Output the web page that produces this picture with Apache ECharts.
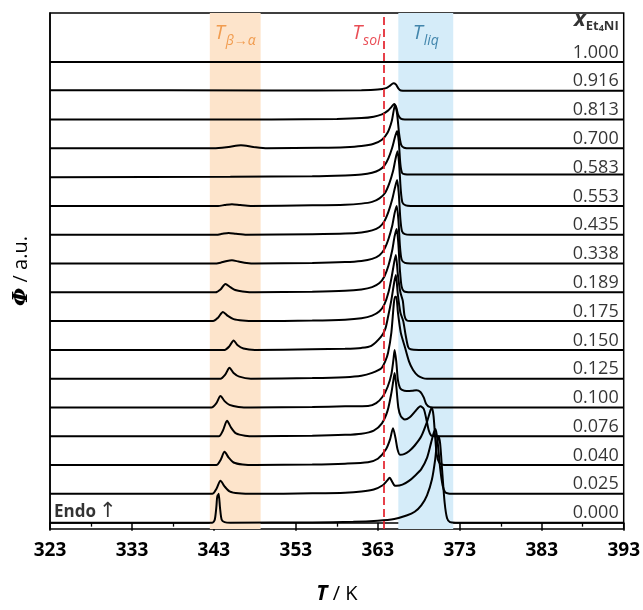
<!DOCTYPE html>
<html><head><meta charset="utf-8">
<script src="https://cdn.jsdelivr.net/npm/echarts@6/dist/echarts.min.js"></script>
<style>html,body{margin:0;padding:0;background:#fff}#c{width:643px;height:610px}</style>
</head><body><div id="c"></div>
<script>
// ---------- data (temperature in K, signal in row units above each baseline) ----------
const T0 = 323;                       // axis start
const T1 = 393;                       // axis end
const tickStep = 10;
const compositions = ['1.000','0.916','0.813','0.700','0.583','0.553','0.435','0.338','0.189','0.175','0.150','0.125','0.100','0.076','0.040','0.025','0.000'];

const tr_1000 = [[323,0],[393,0]];
const tr_0916 = [[323,0.02],[350,0.01],[361,0.02],[363,0.04],[364,0.09],[364.5,0.18],[364.9,0.26],[365.2,0.22],[365.5,0.08],[365.8,0.01],[366.5,0],[393,0]];
const tr_0813 = [[323,0],[350,0],[358,0.02],[361,0.05],[362.5,0.1],[363.5,0.18],[364.2,0.3],[364.7,0.45],[365.0,0.54],[365.25,0.42],[365.5,0.15],[365.8,0.03],[366.3,0],[393,0]];
const tr_0700 = [[323,0],[343,0],[344.8,0.05],[346.3,0.11],[347.8,0.05],[349.5,0],[356,0.02],[359,0.04],[361,0.08],[362.5,0.16],[363.5,0.3],[364.2,0.55],[364.7,0.95],[365.1,1.5],[365.35,1.2],[365.6,0.5],[365.85,0.12],[366.2,0.02],[367,0],[393,0]];
const tr_0583 = [[323,0],[345,0.01],[355,0.03],[359,0.06],[361,0.09],[362.3,0.15],[363.2,0.25],[363.8,0.4],[364.3,0.66],[364.75,1.02],[365.1,1.4],[365.35,1.6],[365.55,1.25],[365.75,0.45],[365.95,0.15],[366.3,0.1],[367,0.09],[393,0.09]];
const tr_0553 = [[323,0],[343.5,0],[344.3,0.03],[345.2,0.06],[346.2,0.03],[347.5,0],[355,0.02],[359,0.04],[361,0.08],[362.3,0.14],[363.2,0.26],[363.9,0.46],[364.4,0.78],[364.85,1.2],[365.15,1.62],[365.4,1.9],[365.6,1.45],[365.8,0.55],[366.0,0.12],[366.4,0.02],[367,0],[393,0]];
const tr_0435 = [[323,0],[343.3,0],[344.0,0.03],[344.8,0.06],[345.7,0.03],[347,0],[355,0.02],[359,0.04],[361,0.08],[362.3,0.15],[363.2,0.27],[363.8,0.47],[364.3,0.8],[364.75,1.22],[365.1,1.65],[365.35,1.9],[365.55,1.45],[365.75,0.55],[365.95,0.12],[366.3,0.02],[367,0],[393,0]];
const tr_0338 = [[323,0],[343,0],[343.8,0.03],[344.6,0.09],[345.2,0.11],[346,0.07],[347,0.02],[348,0],[355,0.02],[359,0.05],[361,0.09],[362.3,0.16],[363.2,0.29],[363.8,0.5],[364.3,0.85],[364.75,1.3],[365.05,1.75],[365.3,2.0],[365.5,1.55],[365.7,0.6],[365.9,0.14],[366.3,0.02],[367,0],[393,0]];
const tr_0189 = [[323,0],[343.2,0],[343.8,0.1],[344.4,0.29],[345,0.18],[345.6,0.08],[346.5,0.03],[348,0],[355,0.02],[359,0.05],[361,0.1],[362.3,0.18],[363.2,0.32],[363.8,0.55],[364.3,0.93],[364.75,1.45],[365.05,1.95],[365.3,2.2],[365.5,1.7],[365.7,0.75],[365.9,0.2],[366.2,0.03],[367,0],[393,0]];
const tr_0175 = [[323,0],[342.9,0],[343.5,0.12],[344.1,0.32],[344.7,0.18],[345.4,0.07],[346.5,0.02],[348,0],[355,0.02],[359,0.05],[361,0.1],[362.3,0.19],[363.2,0.34],[363.8,0.58],[364.3,1.0],[364.7,1.55],[365.0,2.05],[365.2,2.3],[365.45,1.6],[365.75,1.0],[366.05,0.7],[366.25,0.2],[366.5,0.03],[367,0],[393,0]];
const tr_0150 = [[323,0],[344.3,0],[344.9,0.13],[345.4,0.33],[345.9,0.16],[346.6,0.05],[348,0],[355,0.02],[359,0.04],[361,0.07],[362.2,0.14],[363.4,0.46],[363.9,0.72],[364.25,1.15],[364.65,1.73],[365.0,2.35],[365.2,2.6],[365.45,1.9],[365.75,1.3],[366.1,1.0],[366.4,0.5],[366.7,0.1],[367.0,0.02],[368,0],[393,0]];
const tr_0125 = [[323,0],[343.8,0],[344.4,0.15],[344.9,0.38],[345.4,0.2],[346.1,0.07],[347.5,0],[355,0.02],[359,0.05],[361,0.1],[362.3,0.2],[363.4,0.35],[363.9,0.6],[364.25,0.9],[364.65,1.6],[364.95,2.6],[365.1,2.85],[365.25,2.85],[365.45,2.3],[365.8,1.6],[366.3,1.1],[366.8,0.6],[367.3,0.3],[367.9,0.1],[368.5,0.02],[369,0],[393,0]];
const tr_0100 = [[323,0],[342.7,0],[343.3,0.15],[343.8,0.4],[344.3,0.22],[344.9,0.09],[346,0.02],[347.5,0],[355,0.02],[359,0.04],[361.8,0.05],[362.8,0.15],[363.6,0.38],[364.2,0.72],[364.65,1.15],[364.9,1.65],[365.05,2.0],[365.25,1.6],[365.45,0.95],[365.7,0.68],[365.95,0.61],[366.5,0.57],[367.2,0.58],[367.7,0.6],[368.2,0.54],[368.6,0.35],[368.9,0.12],[369.3,0.02],[370,0],[393,0]];
const tr_0076 = [[323,0],[343.6,0],[344.1,0.2],[344.6,0.54],[345.1,0.3],[345.7,0.1],[346.8,0.02],[348,0],[355,0.02],[359,0.05],[361,0.09],[362.5,0.2],[363.5,0.45],[364.2,0.9],[364.65,1.5],[364.9,1.95],[365.05,2.2],[365.25,1.75],[365.5,1.0],[365.8,0.7],[366.3,0.58],[366.9,0.66],[367.6,0.88],[368.2,1.04],[368.6,0.95],[368.9,0.62],[369.2,0.22],[369.5,0.03],[370,0],[393,0]];
const tr_0040 = [[323,0],[343.3,0],[343.8,0.17],[344.3,0.46],[344.8,0.26],[345.4,0.09],[346.5,0.02],[348,0],[355,0.02],[359,0.05],[361.8,0.1],[363,0.22],[364,0.55],[364.5,0.9],[364.85,1.28],[365.15,0.95],[365.4,0.55],[365.7,0.36],[366.2,0.38],[366.8,0.48],[367.5,0.68],[368.3,1.0],[369.0,1.5],[369.4,1.88],[369.6,2.0],[369.8,1.7],[370.0,0.95],[370.2,0.35],[370.5,0.08],[370.9,0.01],[371.5,0],[393,0]];
const tr_0025 = [[323,0],[342.8,0],[343.3,0.17],[343.8,0.46],[344.3,0.26],[344.9,0.09],[346,0.02],[348,0],[355,0.02],[359,0.04],[361,0.08],[362.5,0.15],[363.6,0.3],[364.1,0.45],[364.45,0.56],[364.75,0.42],[365.0,0.3],[365.25,0.28],[366,0.32],[366.8,0.45],[367.6,0.65],[368.3,0.86],[369.0,1.25],[369.5,1.78],[369.85,2.15],[370.05,2.25],[370.3,1.8],[370.6,0.9],[370.9,0.3],[371.2,0.06],[371.6,0.01],[372,0],[393,0]];
const tr_0000 = [[323,0],[342.8,0],[343.1,0.1],[343.3,0.55],[343.42,0.95],[343.5,0.88],[343.58,1.0],[343.75,0.5],[343.95,0.1],[344.3,0.02],[345,0],[355,0.01],[360,0.03],[363,0.07],[365,0.13],[366.5,0.25],[367.5,0.38],[368.3,0.6],[369.0,0.95],[369.6,1.5],[370.0,2.2],[370.2,2.75],[370.4,3.0],[370.6,2.75],[370.85,1.8],[371.15,0.7],[371.45,0.15],[371.8,0.02],[372.5,0],[393,0]];

const traces = [tr_1000,tr_0916,tr_0813,tr_0700,tr_0583,tr_0553,tr_0435,tr_0338,tr_0189,tr_0175,tr_0150,tr_0125,tr_0100,tr_0076,tr_0040,tr_0025,tr_0000];

const bandBeta = [342.5, 348.7];
const bandLiq = [365.5, 372.2];
const tSol = 363.7;

// ---------- chart ----------
const chart = echarts.init(document.getElementById('c'), null, {renderer:'canvas'});
const FONT = '"Open Sans", "Noto Sans", sans-serif';
const n = traces.length;
const yTopLabel = 16.92;

const traceSeries = traces.map((tr, i) => {
  const k = n - 1 - i;
  return {
    type: 'line', name: compositions[i], z: 3,
    showSymbol: false, symbol: 'none', smooth: 0.25, silent: true,
    lineStyle: {color: '#000', width: 2},
    data: tr.map(p => [p[0] - T0, p[1] + k])
  };
});

const bandSeries = {
  type: 'line', data: [], z: 1, silent: true,
  markArea: {
    silent: true,
    data: [
      [{xAxis: bandBeta[0] - T0, itemStyle: {color: '#fde4cb'}}, {xAxis: bandBeta[1] - T0}],
      [{xAxis: bandLiq[0] - T0, itemStyle: {color: '#d5ecf9'}}, {xAxis: bandLiq[1] - T0}]
    ]
  },
  markLine: {
    silent: true, symbol: 'none', label: {show: false},
    lineStyle: {color: '#e3202b', type: [8, 4], width: 1.7},
    data: [{xAxis: tSol - T0}]
  }
};

const labelData = compositions.map((c, i) => ({
  value: [T1 - T0, (n - 1 - i) + 0.33],
  label: {show: true, position: 'left', distance: 5, formatter: c, fontSize: 18, color: '#000', fontFamily: FONT}
}));

const annot = [
  {value: [T1 - T0, 17.42], label: {show: true, position: 'left', distance: 5,
    formatter: '{x|x}{s|Et}{ss|4}{s|NI}',
    rich: {
      x: {fontSize: 22, fontWeight: 'bold', fontStyle: 'italic', fontFamily: FONT, color: '#000', verticalAlign: 'top'},
      s: {fontSize: 13, fontWeight: 'bold', fontFamily: FONT, color: '#000', verticalAlign: 'bottom', padding: [10,0,0,0]},
      ss: {fontSize: 9, fontWeight: 'bold', fontFamily: FONT, color: '#000', verticalAlign: 'bottom', padding: [15,0,0,0]}
    }}},
  {value: [(bandBeta[0] + bandBeta[1]) / 2 - T0, yTopLabel], label: {show: true, position: 'inside',
    formatter: '{t|T}{s|β→α}',
    rich: {
      t: {fontSize: 20, fontStyle: 'italic', fontFamily: FONT, color: '#ee8a30', verticalAlign: 'top'},
      s: {fontSize: 14, fontStyle: 'italic', fontFamily: FONT, color: '#ee8a30', verticalAlign: 'bottom', padding: [11,0,0,1]}
    }}},
  {value: [tSol - T0, yTopLabel], label: {show: true, position: 'left', distance: 3,
    formatter: '{t|T}{s|sol}',
    rich: {
      t: {fontSize: 20, fontStyle: 'italic', fontFamily: FONT, color: '#e3202b', verticalAlign: 'top'},
      s: {fontSize: 14, fontStyle: 'italic', fontFamily: FONT, color: '#e3202b', verticalAlign: 'bottom', padding: [11,0,0,1]}
    }}},
  {value: [(bandLiq[0] + bandLiq[1]) / 2 - T0, yTopLabel], label: {show: true, position: 'inside',
    formatter: '{t|T}{s|liq}',
    rich: {
      t: {fontSize: 20, fontStyle: 'italic', fontFamily: FONT, color: '#1d6b99', verticalAlign: 'top'},
      s: {fontSize: 14, fontStyle: 'italic', fontFamily: FONT, color: '#1d6b99', verticalAlign: 'bottom', padding: [11,0,0,1]}
    }}},
  {value: [0, 0.36], label: {show: true, position: 'right', distance: 4,
    formatter: '{b|Endo}{a|↑}',
    rich: {
      b: {fontSize: 17, fontWeight: 'bold', fontFamily: FONT, color: '#000'},
      a: {fontSize: 21, fontFamily: '"DejaVu Sans", sans-serif', color: '#000', padding: [0,0,2,3]}
    }}}
];

const labelSeries = {
  type: 'scatter', symbolSize: 0, z: 5, silent: true,
  data: labelData.concat(annot)
};

chart.setOption({
  animation: false,
  grid: {left: 50, right: 16, top: 13, bottom: 73, show: true, borderColor: '#000', borderWidth: 1.5, backgroundColor: 'transparent'},
  xAxis: {
    type: 'value', min: 0, max: T1 - T0, interval: tickStep,
    axisLine: {show: true, lineStyle: {color: '#000', width: 1.5}},
    axisTick: {show: true, length: 8, lineStyle: {color: '#000', width: 1.5}},
    minorTick: {show: true, splitNumber: 2, length: 4, lineStyle: {color: '#000', width: 1.3}},
    splitLine: {show: false}, minorSplitLine: {show: false},
    axisLabel: {formatter: v => String(v + T0), fontSize: 19, fontWeight: 'bold', color: '#000', fontFamily: FONT, margin: 12},
    name: '{b|T} / K', nameLocation: 'middle', nameGap: 55,
    nameTextStyle: {fontSize: 20, color: '#000', fontFamily: FONT,
      rich: {b: {fontSize: 21, fontWeight: 'bold', fontStyle: 'italic', fontFamily: FONT, color: '#000'}}}
  },
  yAxis: {
    type: 'value', min: -0.22, max: 17.7,
    axisLine: {show: true, lineStyle: {color: '#000', width: 1.5}},
    axisTick: {show: false}, axisLabel: {show: false}, splitLine: {show: false},
    name: '{b|Φ} / a.u.', nameLocation: 'middle', nameGap: 18, nameRotate: 90,
    nameTextStyle: {fontSize: 20, color: '#000', fontFamily: FONT,
      rich: {b: {fontSize: 21, fontWeight: 'bold', fontStyle: 'italic', fontFamily: '"DejaVu Serif", serif', color: '#000'}}}
  },
  series: [bandSeries].concat(traceSeries, [labelSeries])
});
</script></body></html>
